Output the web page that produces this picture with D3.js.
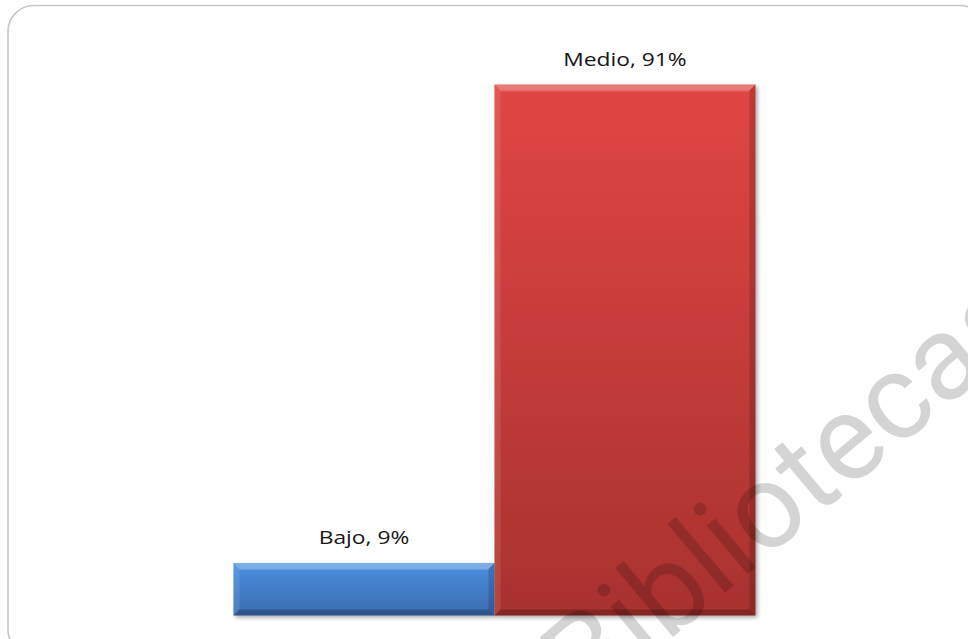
<!DOCTYPE html>
<html>
<head>
<meta charset="utf-8">
<script src="https://cdn.jsdelivr.net/npm/d3@7"></script>
<style>
  html, body { margin: 0; padding: 0; background: #fff; }
  svg { display: block; }
</style>
</head>
<body>
<svg id="chart" width="968" height="639"></svg>
<script>
// Nivel alcanzado: porcentaje por categoría
const categories = ["Bajo", "Medio"];
const values = [9, 91];
const labels = ["Bajo, 9%", "Medio, 91%"];
const colorsTop = ["#4a8fe0", "#e04644"];
const colorsBottom = ["#3a6cb0", "#a8322f"];

const svg = d3.select("#chart");
const defs = svg.append("defs");

// Outer rounded frame (runs off the right and bottom edges)
svg.append("rect")
  .attr("x", 8).attr("y", 5.5)
  .attr("width", 978).attr("height", 650)
  .attr("rx", 26).attr("ry", 26)
  .attr("fill", "#fff")
  .attr("stroke", "#c6c6c6")
  .attr("stroke-width", 1.6);

const x = d3.scaleBand().domain(categories).range([233.5, 755.5]).padding(0);
const y = d3.scaleLinear().domain([0, 100]).range([615.5, 32]);

// Soft drop shadow for the bars
const shadow = defs.append("filter").attr("id", "shadow")
  .attr("x", "-10%").attr("y", "-10%").attr("width", "130%").attr("height", "130%");
shadow.append("feGaussianBlur").attr("in", "SourceAlpha").attr("stdDeviation", 2).attr("result", "b");
shadow.append("feOffset").attr("in", "b").attr("dx", 2).attr("dy", 2).attr("result", "o");
shadow.append("feComponentTransfer").attr("in", "o").attr("result", "s")
  .append("feFuncA").attr("type", "linear").attr("slope", 0.35);
const merge = shadow.append("feMerge");
merge.append("feMergeNode").attr("in", "s");
merge.append("feMergeNode").attr("in", "SourceGraphic");

categories.forEach((c, i) => {
  const g = defs.append("linearGradient").attr("id", "grad" + i)
    .attr("x1", 0).attr("y1", 0).attr("x2", 0).attr("y2", 1);
  g.append("stop").attr("offset", "0%").attr("stop-color", colorsTop[i]);
  g.append("stop").attr("offset", "100%").attr("stop-color", colorsBottom[i]);
});

const bars = svg.append("g").selectAll("g.bar")
  .data(categories.map((c, i) => ({ c, v: values[i], i })))
  .join("g").attr("class", "bar");

const bev = 6;
bars.each(function(d) {
  const g = d3.select(this);
  const x0 = x(d.c), x1 = x(d.c) + x.bandwidth();
  const y0 = y(d.v), y1 = y(0);
  const b = Math.min(bev, (y1 - y0) / 2);
  g.append("rect")
    .attr("x", x0).attr("y", y0)
    .attr("width", x1 - x0).attr("height", y1 - y0)
    .attr("fill", `url(#grad${d.i})`)
    .attr("filter", "url(#shadow)");
  // bevelled edges
  const edges = [
    { pts: [[x0, y0], [x1, y0], [x1 - b, y0 + b], [x0 + b, y0 + b]], fill: "#fff", op: 0.28 },
    { pts: [[x0, y0], [x0 + b, y0 + b], [x0 + b, y1 - b], [x0, y1]], fill: "#fff", op: 0.10 },
    { pts: [[x1, y0], [x1, y1], [x1 - b, y1 - b], [x1 - b, y0 + b]], fill: "#000", op: 0.16 },
    { pts: [[x0, y1], [x0 + b, y1 - b], [x1 - b, y1 - b], [x1, y1]], fill: "#000", op: 0.22 }
  ];
  edges.forEach(e => {
    g.append("polygon")
      .attr("points", e.pts.map(p => p.join(",")).join(" "))
      .attr("fill", e.fill).attr("fill-opacity", e.op);
  });
  g.append("line")
    .attr("x1", x0 + b).attr("x2", x1 - b)
    .attr("y1", y0 + b + 0.5).attr("y2", y0 + b + 0.5)
    .attr("stroke", "#fff").attr("stroke-opacity", 0.15);
});

// Value labels above the bars (slightly widened type)
svg.append("g").selectAll("text")
  .data(categories.map((c, i) => ({ c, v: values[i], t: labels[i] })))
  .join("text")
  .attr("transform", d => `translate(${x(d.c) + x.bandwidth() / 2},${y(d.v) - 19}) scale(1.2,1)`)
  .attr("text-anchor", "middle")
  .attr("font-family", "'Open Sans', 'Noto Sans', sans-serif")
  .attr("font-size", 19)
  .attr("fill", "#161616")
  .text(d => d.t);

// Watermark
svg.append("text")
  .attr("transform", "translate(587,709) rotate(-40)")
  .attr("font-family", "Roboto, 'Open Sans', sans-serif")
  .attr("font-size", 120)
  .attr("fill", "#000")
  .attr("fill-opacity", 0.17)
  .text("Bibliotecas");
</script>
</body>
</html>
